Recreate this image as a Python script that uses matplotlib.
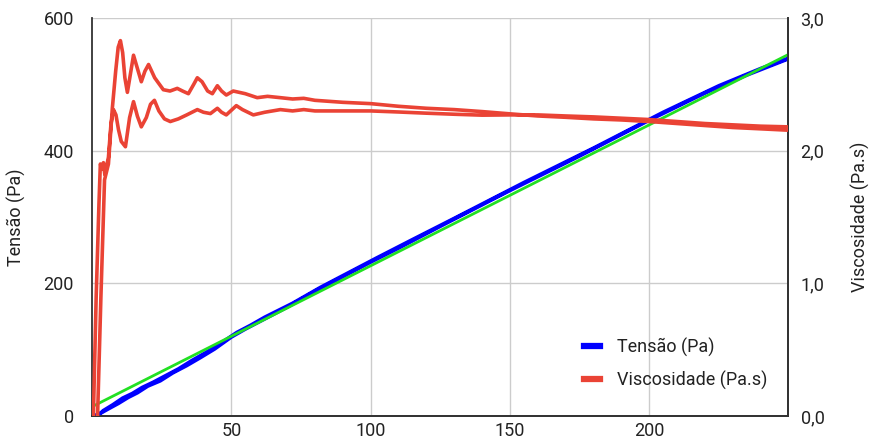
import matplotlib
matplotlib.use("Agg")
import numpy as np
import matplotlib.pyplot as plt
from matplotlib.lines import Line2D

plt.rcParams['font.family'] = ['Roboto', 'DejaVu Sans']

# Tensão (Pa) - ida (taxa crescente) e volta (taxa decrescente)
taxa_ida = [0.5, 3, 6, 9.5, 13, 16.3, 20, 24.5, 29, 34, 38.9, 44, 50, 55, 60,
            70, 80, 90, 100, 110, 125, 150, 175, 200, 220, 235, 249.6]
tensao_ida = [0, 4, 11, 19, 28, 35, 45, 53, 65, 76, 88, 101, 119, 131, 142,
              164, 188, 210, 232, 253, 286, 340, 392, 446, 487, 514, 538]
taxa_volta = [2, 4, 7.5, 11, 14.5, 18, 22, 26.5, 31, 36, 41, 47, 52, 57, 62,
              72, 82, 92, 102, 115, 130, 155, 180, 205, 225, 240, 249.6]
tensao_volta = [0, 8, 17, 27, 34, 43, 51, 61, 71, 84, 96, 112, 126, 137, 149,
                170, 194, 216, 238, 266, 298, 352, 404, 458, 498, 524, 539]

# Viscosidade (Pa.s)
taxa_v_ida = [0.5, 1.5, 2.5, 3.0, 3.6, 4.1, 4.6, 5.9, 6.8, 7.7, 8.6, 9.5, 10.5,
              12.0, 13.5, 14.9, 16.3, 17.7, 19.5, 21.0, 22.4, 24.0, 26.0, 28.1,
              31.0, 34.0, 37.8, 40.0, 42.5, 45.0, 46.5, 48.2, 51.8, 54.0, 57.9,
              62.0, 67.6, 72.0, 76.0, 80.0, 90.0, 100, 110, 120, 130, 140, 150,
              160, 170, 180, 190, 200, 210, 220, 230, 240, 249.6]
visc_ida = [0, 0.9, 1.6, 1.9, 1.86, 1.91, 1.82, 1.95, 2.2, 2.31, 2.27, 2.16, 2.07,
            2.03, 2.25, 2.37, 2.26, 2.18, 2.25, 2.35, 2.38, 2.30, 2.24, 2.22,
            2.24, 2.27, 2.31, 2.29, 2.28, 2.32, 2.29, 2.27, 2.34, 2.31, 2.27,
            2.29, 2.31, 2.30, 2.31, 2.30, 2.30, 2.30, 2.292, 2.283, 2.275, 2.268, 2.27,
            2.27, 2.262, 2.255, 2.245, 2.235, 2.22, 2.205, 2.195, 2.185, 2.18]
taxa_v_volta = [2.0, 3.2, 4.5, 5.9, 7.3, 8.5, 9.4, 10.2, 11.0, 11.8, 12.7, 13.8,
                14.9, 16.3, 17.7, 19.0, 20.3, 22.5, 25.6, 28.0, 30.6, 32.5, 34.6,
                36.5, 37.8, 39.5, 41.5, 43.2, 45.0, 46.5, 48.2, 50.7, 55.0, 59.3,
                63.0, 67.6, 72.0, 76.0, 80.0, 90.0, 100, 110, 120, 130, 140, 150,
                160, 170, 180, 190, 200, 210, 220, 230, 240, 249.6]
visc_volta = [0, 0.9, 1.78, 1.9, 2.32, 2.6, 2.78, 2.83, 2.74, 2.55, 2.44, 2.58,
              2.72, 2.62, 2.52, 2.6, 2.65, 2.55, 2.46, 2.45, 2.47, 2.45, 2.43,
              2.5, 2.55, 2.52, 2.45, 2.43, 2.49, 2.45, 2.42, 2.45, 2.43, 2.40,
              2.41, 2.40, 2.39, 2.395, 2.38, 2.365, 2.355, 2.335, 2.32, 2.31, 2.295, 2.278,
              2.262, 2.252, 2.24, 2.232, 2.22, 2.205, 2.19, 2.175, 2.165, 2.155]

# linha de tendência linear da tensão
tend_coef = [2.125, 14.0]

azul = '#0000ff'
vermelho = '#ea4335'
verde = '#22e022'
cinza = '#cccccc'
texto = '#222222'

fig = plt.figure(figsize=(8.72, 4.41), dpi=100)
ax = fig.add_axes([0.1055, 0.0567, 0.7982, 0.9023])
ax2 = ax.twinx()

# laço de histerese: ida e depois volta
x_t = taxa_ida + taxa_volta[::-1]
y_t = tensao_ida + tensao_volta[::-1]
ax.plot(x_t, y_t, color=azul, lw=2.6, solid_joinstyle='round', zorder=3)

xt = np.array([0, 249.8])
ax.plot(xt, np.polyval(tend_coef, xt), color=verde, lw=2.0, zorder=4)

x_v = taxa_v_ida + taxa_v_volta[::-1]
y_v = visc_ida + visc_volta[::-1]
ax2.plot(x_v, y_v, color=vermelho, lw=2.6, solid_joinstyle='round', zorder=3)

ax.set_xlim(0, 249.8)
ax.set_ylim(0, 600)
ax2.set_ylim(0, 3.0)
ax.set_xticks([50, 100, 150, 200])
ax.set_yticks([0, 200, 400, 600])
ax2.set_yticks([0, 1, 2, 3])
ax2.set_yticklabels(['0,0', '1,0', '2,0', '3,0'])

ax.grid(True, color=cinza, lw=1.0)
ax.set_axisbelow(True)
for a in (ax, ax2):
    a.spines['top'].set_visible(False)
    for s in ('left', 'right', 'bottom'):
        a.spines[s].set_color('#333333')
        a.spines[s].set_linewidth(1.3)
    a.tick_params(length=0, labelsize=13, colors=texto)
ax.tick_params(axis='y', pad=13)
ax.tick_params(axis='x', pad=4)
ax2.tick_params(axis='y', pad=9)
ax2.spines['left'].set_visible(False)

ax.set_ylabel('Tensão (Pa)', fontsize=13, color=texto, labelpad=13)
ax2.set_ylabel('Viscosidade (Pa.s)', fontsize=13, color=texto, labelpad=19)

handles = [Line2D([], [], color=azul, lw=4.5),
           Line2D([], [], color=vermelho, lw=4.5)]
ax2.legend(handles, ['Tensão (Pa)', 'Viscosidade (Pa.s)'], loc='lower right',
           bbox_to_anchor=(0.993, 0.025), frameon=False, fontsize=13,
           handlelength=0.9, handletextpad=0.9, labelspacing=0.75,
           labelcolor=texto)

fig.savefig('out.png', dpi=100)
